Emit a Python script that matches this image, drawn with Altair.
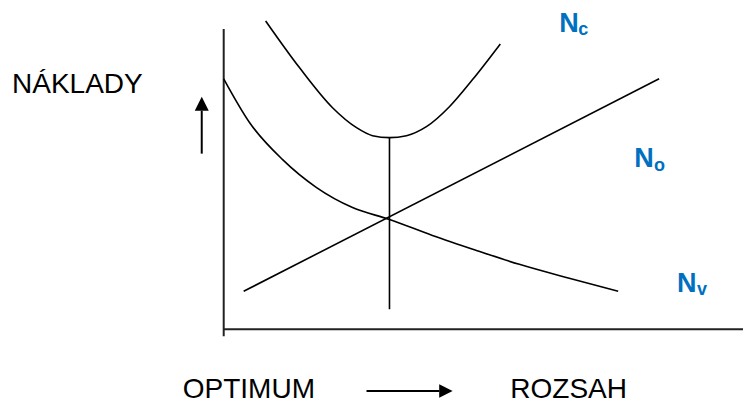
import altair as alt
import pandas as pd

# ---- data (x = rozsah, y = náklady; origin at the axes corner) ----
nc_x = [42, 76, 109, 133, 149, 166, 183, 203, 226, 249, 277]
nc_y = [309, 262, 222, 202, 194, 192, 194, 203, 223, 250, 286]

nv_x = [0, 26, 59, 93, 129, 166, 209, 253, 296, 346, 395]
nv_y = [251, 207, 170, 142, 122, 110, 94, 79, 65, 51, 38]

no_x = [20, 436]
no_y = [38, 251]

opt_x = [166]
opt_y_top = [192]
opt_y_bottom = [20]

axis_y_top = 301
axis_y_bottom = -7
axis_x_end = 520

# ---- page geometry ----
W, H = 736, 396
X0, Y0 = 224, 330
xs = alt.Scale(domain=[8 - X0, 8 + W - X0], nice=False, zero=False)
ys = alt.Scale(domain=[Y0 - (8 + H), Y0 - 8], nice=False, zero=False)

def X(f, **kw):
    return alt.X(f, type="quantitative", scale=xs, axis=None, **kw)

def Y(f, **kw):
    return alt.Y(f, type="quantitative", scale=ys, axis=None, **kw)

def line(xv, yv):
    df = pd.DataFrame({"x": xv, "y": yv, "i": range(len(xv))})
    return alt.Chart(df).mark_line(color="black", strokeWidth=1.6, interpolate="monotone").encode(
        x=X("x"), y=Y("y"), order="i:Q")

nc = line(nc_x, nc_y)
nv = line(nv_x, nv_y)
no = line(no_x, no_y)

opt = alt.Chart(pd.DataFrame({"x": opt_x, "y": opt_y_top, "y2": opt_y_bottom})).mark_rule(
    color="black", strokeWidth=1.6).encode(x=X("x"), y=Y("y"), y2="y2:Q")

axes_df = pd.DataFrame({
    "x": [0, 0], "x2": [0, axis_x_end],
    "y": [axis_y_top, 0], "y2": [axis_y_bottom, 0]})
axes = alt.Chart(axes_df).mark_rule(color="#222", strokeWidth=2).encode(
    x=X("x"), x2="x2:Q", y=Y("y"), y2="y2:Q")

# arrows
arrow_shafts = pd.DataFrame({"x": [-22, 143], "x2": [-22, 216], "y": [176, -62], "y2": [219, -62]})
shafts = alt.Chart(arrow_shafts).mark_rule(color="black", strokeWidth=2).encode(
    x=X("x"), x2="x2:Q", y=Y("y"), y2="y2:Q")
head_up = alt.Chart(pd.DataFrame({"x": [-22], "y": [226]})).mark_point(
    shape="M0,-1L1,1L-1,1Z", filled=True, color="black", opacity=1, size=196).encode(x=X("x"), y=Y("y"))
head_right = alt.Chart(pd.DataFrame({"x": [222.5], "y": [-62]})).mark_point(
    shape="M-1,-1L1,0L-1,1Z", filled=True, color="black", opacity=1, size=180).encode(x=X("x"), y=Y("y"))

# black labels
lab_df = pd.DataFrame({"t": ["NÁKLADY", "OPTIMUM", "ROZSAH"],
                       "x": [-212, -41, 287], "y": [237, -69, -69]})
labels = alt.Chart(lab_df).mark_text(align="left", baseline="alphabetic", font="Liberation Sans",
                                     fontSize=28, color="black").encode(x=X("x"), y=Y("y"), text="t:N")

blue = "#0070C0"
n_df = pd.DataFrame({"t": ["N", "N", "N"], "x": [336, 411, 454], "y": [298, 163, 37]})
sub_df = pd.DataFrame({"t": ["c", "o", "v"], "x": [355, 431, 474], "y": [295, 159, 34]})
n_lab = alt.Chart(n_df).mark_text(align="left", baseline="alphabetic", font="Liberation Sans",
                                  fontSize=27, fontWeight="bold", color=blue).encode(
    x=X("x"), y=Y("y"), text="t:N")
sub_lab = alt.Chart(sub_df).mark_text(align="left", baseline="alphabetic", font="Liberation Sans",
                                      fontSize=18, fontWeight="bold", color=blue).encode(
    x=X("x"), y=Y("y"), text="t:N")

chart = alt.layer(axes, nc, nv, no, opt, shafts, head_up, head_right, labels, n_lab, sub_lab).properties(
    width=W, height=H, padding=0,
    autosize=alt.AutoSizeParams(type="fit", contains="padding"),
    background="white",
).configure_view(stroke=None)

chart.save("out.html", embed_options={"renderer": "svg", "actions": False})
